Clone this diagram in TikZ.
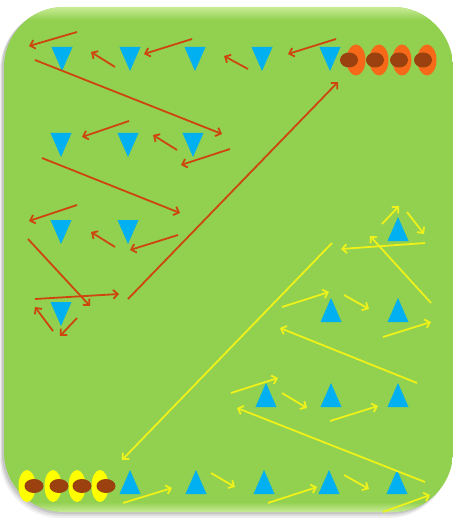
\documentclass[tikz,border=0pt]{standalone}
\usetikzlibrary{arrows.meta}
\definecolor{grass}{RGB}{146,208,80}
\definecolor{grasslight}{RGB}{200,235,150}
\definecolor{conec}{RGB}{0,176,240}
\definecolor{redc}{RGB}{205,70,15}
\definecolor{yelc}{RGB}{238,242,25}
\definecolor{orangec}{RGB}{245,105,25}
\definecolor{brownc}{RGB}{155,65,15}
\definecolor{yelball}{RGB}{255,255,0}
\newcommand\conedown[2]{\fill[conec] (#1-10.5,#2) -- (#1+10.5,#2) -- (#1,#2+24) -- cycle;}
\newcommand\coneup[2]{\fill[conec] (#1-10.5,#2+24) -- (#1+10.5,#2+24) -- (#1,#2) -- cycle;}
\tikzset{
  ra/.style={draw=redc, line width=1.8pt, -{Straight Barb[length=4.5pt,width=9pt]}},
  ya/.style={draw=yelc, line width=1.8pt, -{Straight Barb[length=4.5pt,width=9pt]}},
}
\begin{document}
\begin{tikzpicture}[x=1pt,y=-1pt]
\useasboundingbox (0,0) rectangle (455,521);
\fill[white] (0,0) rectangle (455,521);
% shadow
\fill[black,opacity=0.06,rounded corners=60pt] (0,10) rectangle (449,518);
\fill[black,opacity=0.08,rounded corners=60pt] (1,9) rectangle (450,516);
\fill[black,opacity=0.10,rounded corners=60pt] (2,8) rectangle (451,514);
% field
\begin{scope}
\clip[rounded corners=60pt] (4,7) rectangle (453,512);
\fill[grass] (4,7) rectangle (453,512);
\shade[top color=grasslight, bottom color=grass] (4,7) rectangle (453,20);
\shade[top color=grass, bottom color=grasslight] (4,502) rectangle (453,512);
\end{scope}
% down cones
\foreach \x in {62,130,195,262,330} {\conedown{\x}{47}}
\foreach \x in {61,128,193} {\conedown{\x}{133}}
\foreach \x in {61,128} {\conedown{\x}{220}}
\conedown{61}{302}
% up cones
\coneup{398}{217}
\foreach \x in {331,398} {\coneup{\x}{298}}
\foreach \x in {266,331,398} {\coneup{\x}{383}}
\foreach \x in {130,196,264,329,397} {\coneup{\x}{470}}
% players top right
\foreach \x in {356,379,402,427} {\fill[orangec] (\x,60) ellipse [x radius=9.5, y radius=15.5];}
\foreach \x in {349,375,399,423} {\fill[brownc] (\x,60) ellipse [x radius=9, y radius=7.5];}
% players bottom left
\foreach \x in {27,53,77,100} {\fill[yelball] (\x,486) ellipse [x radius=8.5, y radius=16];}
\foreach \x in {34,59,82,106} {\fill[brownc] (\x,486) ellipse [x radius=9.5, y radius=7];}
% red arrows
\draw[ra] (77,32) -- (29,46);
\draw[ra] (115,67) -- (91,52);
\draw[ra] (192,39) -- (144,54);
\draw[ra] (248,69) -- (224,56);
\draw[ra] (336,39) -- (288,54);
\draw[ra] (35,60) -- (222,134);
\draw[ra] (129,121) -- (82,137);
\draw[ra] (177,150) -- (153,135);
\draw[ra] (230,149) -- (181,165);
\draw[ra] (42,158) -- (180,213);
\draw[ra] (77,205) -- (29,221);
\draw[ra] (115,247) -- (91,232);
\draw[ra] (178,235) -- (130,250);
\draw[ra] (28,239) -- (90,306);
\draw[ra] (35,299) -- (119,294);
\draw[ra] (128,299) -- (338,82);
\draw[ra] (53,331) -- (35,307);
\draw[ra] (77,318) -- (60,336);
% yellow arrows
\draw[ya] (382,224) -- (399,206);
\draw[ya] (407,212) -- (424,234);
\draw[ya] (425,243) -- (341,249);
\draw[ya] (332,243) -- (122,460);
\draw[ya] (431,303) -- (370,236);
\draw[ya] (282,307) -- (329,292);
\draw[ya] (344,295) -- (369,309);
\draw[ya] (383,337) -- (431,322);
\draw[ya] (417,383) -- (280,328);
\draw[ya] (231,393) -- (278,378);
\draw[ya] (282,393) -- (307,408);
\draw[ya] (330,421) -- (378,406);
\draw[ya] (425,482) -- (237,408);
\draw[ya] (211,473) -- (235,487);
\draw[ya] (268,503) -- (317,487);
\draw[ya] (344,475) -- (369,489);
\draw[ya] (383,512) -- (430,495);
\draw[ya] (123,503) -- (172,488);
\end{tikzpicture}
\end{document}
